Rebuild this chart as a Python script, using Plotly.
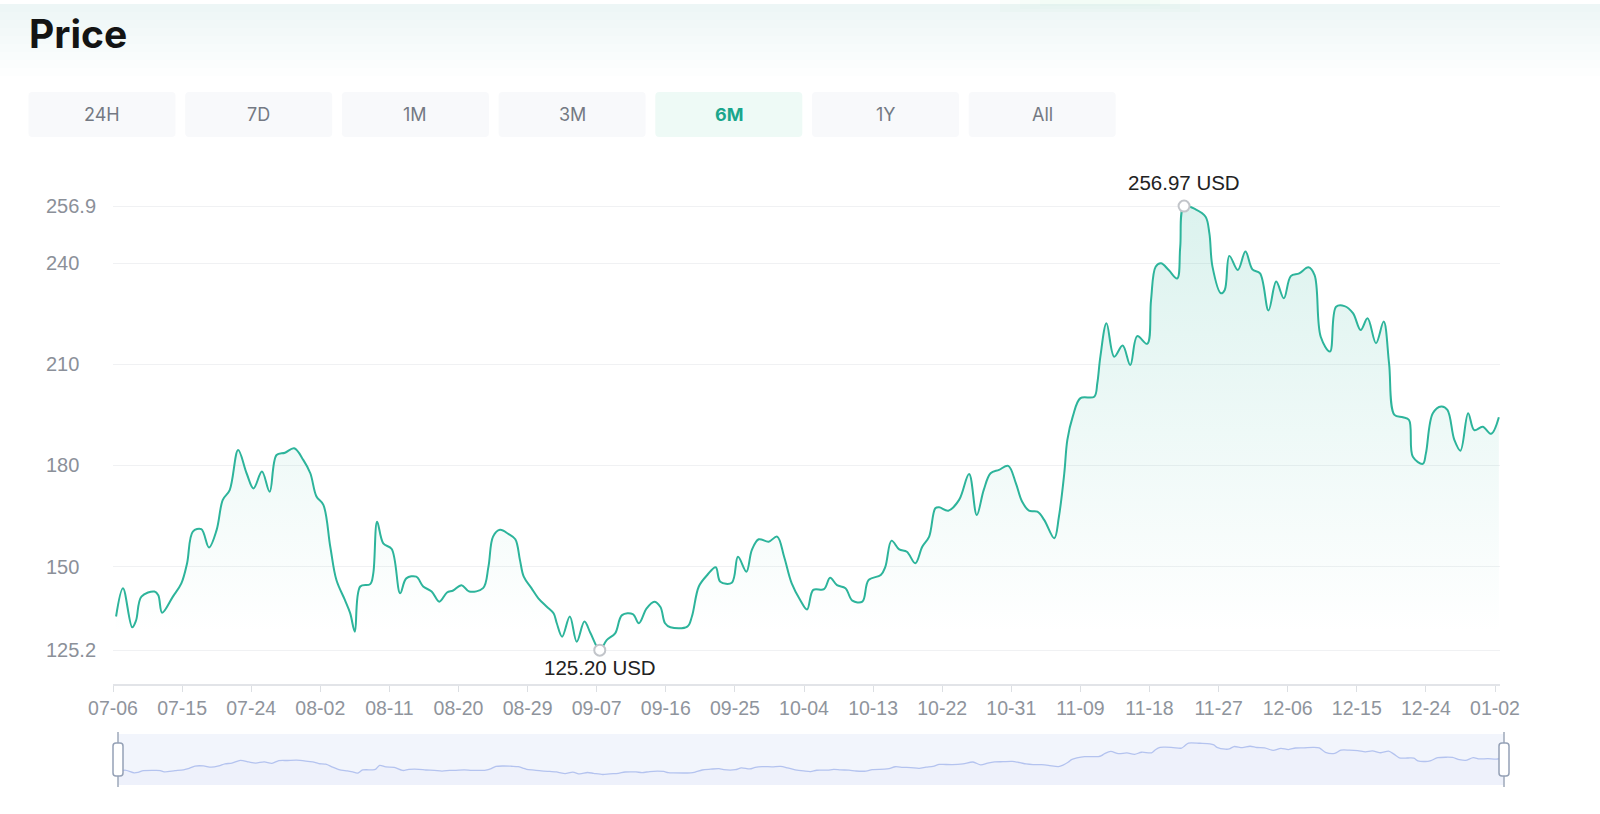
import plotly.graph_objects as go
import pandas as pd

W, H = 1600, 814

# ---------------- data ----------------
START = "2024-07-06"
day_offsets = [
    0.4, 1.3, 2.5, 3.0, 3.7, 5.4, 5.9, 6.4, 7.8, 8.9, 9.65, 10.4, 11.5, 12.5, 13.5,
    14.3, 15.2, 16.3, 17.4, 18.3, 19.4, 20.4, 21.3, 22.4, 23.6, 24.8, 25.7, 26.5,
    27.4, 28.3, 29.1, 30.2, 30.9, 31.5, 32.2, 33.5, 33.9, 34.4, 35.2, 36.3, 37.4,
    38.2, 39.5, 40.4, 41.5, 42.5, 43.5, 44.3, 45.4, 46.4, 48.2, 48.9, 49.5, 50.4,
    51.5, 52.4, 53.0, 53.5, 54.5, 55.4, 56.5, 57.4, 57.8, 58.5, 59.5, 60.4, 61.4,
    62.2, 63.4, 64.3, 65.4, 66.3, 67.7, 68.5, 69.5, 70.5, 71.3, 71.9, 72.6, 74.8,
    75.4, 76.3, 77.4, 78.5, 79.1, 80.6, 81.4, 82.5, 83.2, 84.1, 85.4, 86.5, 87.4,
    88.4, 89.5, 90.4, 91.2, 92.6, 93.4, 94.3, 95.4, 96.3, 97.6, 98.4, 100.0, 100.6,
    101.4, 102.4, 103.4, 104.5, 105.4, 106.3, 107.1, 107.6, 108.8, 110.2, 111.5,
    112.5, 113.4, 114.3, 115.4, 116.6, 117.6, 118.4, 119.3, 120.4, 121.3, 122.6,
    123.2, 123.9, 124.3, 125.0, 126.0, 127.8, 128.2, 128.6, 129.4, 130.4, 131.5,
    132.5, 133.4, 134.7, 135.2, 135.8, 136.5, 137.5, 138.6, 139.0, 139.5, 141.0,
    142.3, 142.8, 143.2, 144.3, 144.8, 145.4, 146.5, 147.5, 148.4, 149.4, 150.5,
    151.5, 152.5, 153.4, 154.5, 155.7, 156.5, 157.3, 158.5, 159.3, 160.4, 161.5,
    162.5, 163.4, 164.5, 165.5, 166.2, 166.9, 168.0, 168.8, 169.3, 170.6, 171.0,
    171.9, 173.0, 173.8, 174.7, 175.5, 176.5, 177.3, 178.4, 179.5, 180.5,
]
prices = [
    135.2, 143.6, 132.0, 134.0, 141.1, 142.6, 141.5, 136.3, 141.1, 145.0, 151.0, 160.4, 161.1, 155.7, 160.9,
    169.8, 172.7, 184.6, 177.7, 173.2, 178.2, 172.2, 183.1, 183.8, 185.1, 181.6, 177.7, 170.8,
    168.3, 155.9, 146.0, 140.1, 136.1, 130.7, 144.1, 144.8, 148.0, 163.3, 156.9, 155.2, 142.1,
    146.5, 147.0, 144.1, 142.6, 139.6, 142.3, 142.9, 144.5, 142.6, 143.6, 150.0, 158.9, 160.9,
    159.7, 158.1, 152.0, 147.0, 143.6, 140.6, 138.1, 136.1, 133.2, 129.2, 135.2, 127.7, 133.7,
    130.2, 125.20, 128.2, 130.2, 135.6, 135.9, 133.2, 137.6, 139.6, 138.0, 133.2, 132.0, 132.2,
    135.2, 144.1, 147.5, 149.8, 145.5, 145.2, 152.9, 148.5, 154.9, 158.1, 157.4, 158.9, 153.0,
    145.0, 140.1, 137.3, 143.1, 143.3, 146.7, 144.5, 143.6, 139.9, 139.6, 146.0, 147.5, 150.0,
    157.7, 155.1, 154.4, 151.0, 155.9, 158.9, 167.3, 167.6, 166.6, 169.8, 177.5,
    165.3, 172.7, 177.7, 178.7, 179.9, 174.7, 169.3, 166.6, 166.3, 163.8, 158.4,
    164.8, 177.7, 187.6, 194.5, 200.0, 200.4, 204.4, 212.3, 222.2, 212.3, 215.6,
    209.8, 218.4, 216.1, 229.1, 239.0, 240.0, 238.0, 235.5, 244.9, 256.97, 256.0,
    253.8, 248.9, 239.0, 231.1, 232.1, 242.2, 238.0, 243.5, 238.2, 237.0, 226.0,
    234.6, 229.6, 236.2, 237.0, 238.8, 236.5, 218.2, 213.8, 227.1, 227.3, 225.2,
    220.2, 223.7, 216.3, 222.7, 210.3, 195.0, 194.3, 193.5, 182.6, 180.5, 183.6,
    195.5, 197.5, 196.5, 187.6, 184.4, 195.5, 190.5, 191.5, 189.4, 194.3,
]
x_tick_labels = ["07-06", "07-15", "07-24", "08-02", "08-11", "08-20", "08-29",
                 "09-07", "09-16", "09-25", "10-04", "10-13", "10-22", "10-31",
                 "11-09", "11-18", "11-27", "12-06", "12-15", "12-24", "01-02"]
y_tick_values = [125.2, 150, 180, 210, 240, 256.9]
y_tick_labels = ["125.2", "150", "180", "210", "240", "256.9"]
range_buttons = ["24H", "7D", "1M", "3M", "6M", "1Y", "All"]
active_button = "6M"
unit = "USD"
title = "Price"

# ---------------- helpers ----------------
def fx(px):
    return px / W

def fy(py):
    return 1 - py / H

def rounded_rect(x0, y0, x1, y1, r):
    """Rounded rectangle path in paper coordinates, from pixel positions."""
    pts = [
        "M %f,%f" % (fx(x0 + r), fy(y0)),
        "L %f,%f" % (fx(x1 - r), fy(y0)),
        "Q %f,%f %f,%f" % (fx(x1), fy(y0), fx(x1), fy(y0 + r)),
        "L %f,%f" % (fx(x1), fy(y1 - r)),
        "Q %f,%f %f,%f" % (fx(x1), fy(y1), fx(x1 - r), fy(y1)),
        "L %f,%f" % (fx(x0 + r), fy(y1)),
        "Q %f,%f %f,%f" % (fx(x0), fy(y1), fx(x0), fy(y1 - r)),
        "L %f,%f" % (fx(x0), fy(y0 + r)),
        "Q %f,%f %f,%f" % (fx(x0), fy(y0), fx(x0 + r), fy(y0)),
        "Z",
    ]
    return " ".join(pts)

dates = pd.Timestamp(START) + pd.to_timedelta(day_offsets, unit="D")
tick_dates = pd.date_range(START, periods=len(x_tick_labels), freq="9D")
x_end = pd.Timestamp(START) + pd.Timedelta(days=180.65)

imax = max(range(len(prices)), key=lambda i: prices[i])
imin = min(range(len(prices)), key=lambda i: prices[i])

LINE = "#2db49b"
FONT = "Liberation Sans, Arial, sans-serif"

fig = go.Figure()

fig.add_trace(go.Scatter(
    x=dates, y=prices, mode="lines",
    line=dict(color=LINE, width=2, shape="spline", smoothing=1.0),
    fill="tozeroy",
    fillgradient=dict(type="vertical",
                      colorscale=[[0, "rgba(45,180,155,0)"], [1, "rgba(45,180,155,0.17)"]],
                      start=130, stop=257),
    hoverinfo="skip", showlegend=False,
))

fig.add_trace(go.Scatter(
    x=[dates[imax], dates[imin]], y=[prices[imax], prices[imin]], mode="markers",
    marker=dict(symbol="circle", size=11, color="white", line=dict(color="#c2c5ca", width=2)),
    cliponaxis=False, hoverinfo="skip", showlegend=False,
))

# mini overview (data zoom)
fig.add_trace(go.Scatter(
    x=dates, y=prices, mode="lines", xaxis="x2", yaxis="y2",
    line=dict(color="#b4c3ef", width=1.3, shape="spline", smoothing=0.8),
    fill="tozeroy", fillcolor="rgba(190,205,245,0.08)",
    hoverinfo="skip", showlegend=False,
))

annotations = []
shapes = []

# top soft shadow band (stacked translucent layers give a fade)
for bottom in (12, 20, 28, 36, 44, 52, 60, 68, 76):
    shapes.append(dict(type="rect", xref="paper", yref="paper", x0=0, x1=1,
                       y0=fy(bottom), y1=fy(4), fillcolor="#e2e5e9", opacity=0.055,
                       line=dict(width=0), layer="below"))
# faint green glow at the top edge
for k, (gx0, gx1, gb) in enumerate(((1000, 1200, 12), (1020, 1180, 9), (1040, 1160, 6))):
    shapes.append(dict(type="rect", xref="paper", yref="paper", x0=fx(gx0), x1=fx(gx1),
                       y0=fy(gb), y1=fy(0), fillcolor="#d2efdf", opacity=0.08,
                       line=dict(width=0), layer="below"))

# title
annotations.append(dict(text="<b>" + title + "</b>", x=fx(27), y=fy(34), xref="paper", yref="paper",
                        xanchor="left", yanchor="middle", showarrow=False,
                        font=dict(family="Inter, Liberation Sans, sans-serif", size=39, color="#141414")))

# range buttons
bx0, bpitch, bw, by0, by1 = 28.5, 156.7, 147, 92, 137
for i, name in enumerate(range_buttons):
    x0 = bx0 + i * bpitch
    active = name == active_button
    shapes.append(dict(type="path", xref="paper", yref="paper",
                       path=rounded_rect(x0, by0, x0 + bw, by1, 4),
                       fillcolor="#eefaf6" if active else "#f8f9fb",
                       line=dict(width=0), layer="below"))
    annotations.append(dict(text=("<b>%s</b>" % name) if active else name,
                            x=fx(x0 + bw / 2), y=fy((by0 + by1) / 2), xref="paper", yref="paper",
                            xanchor="center", yanchor="middle", showarrow=False,
                            font=dict(family="Inter, Noto Sans, sans-serif", size=18,
                                      color="#1aa68c" if active else "#747983")))

# y tick labels (left aligned)
for v, t in zip(y_tick_values, y_tick_labels):
    annotations.append(dict(text=t, x=fx(44), y=v, xref="paper", yref="y",
                            xanchor="left", yanchor="middle", showarrow=False,
                            font=dict(family=FONT, size=20, color="#8b9099")))

# extreme labels
annotations.append(dict(text="%.2f %s" % (prices[imax], unit), x=dates[imax], y=prices[imax],
                        xref="x", yref="y", yshift=24, showarrow=False,
                        font=dict(family=FONT, size=20.5, color="#222222")))
annotations.append(dict(text="%.2f %s" % (prices[imin], unit), x=dates[imin], y=prices[imin],
                        xref="x", yref="y", yshift=-17, showarrow=False,
                        font=dict(family=FONT, size=20.5, color="#222222")))

# slider background and handles (at the slider's two ends)
sl_x0, sl_x1, sl_top, sl_bot = 118, 1504, 734, 785
shapes.append(dict(type="rect", xref="paper", yref="paper", x0=fx(sl_x0), x1=fx(sl_x1),
                   y0=fy(sl_bot), y1=fy(sl_top), fillcolor="#f2f5fc",
                   line=dict(width=0), layer="below"))
for hx in (sl_x0, sl_x1):
    shapes.append(dict(type="line", xref="paper", yref="paper", x0=fx(hx), x1=fx(hx),
                       y0=fy(sl_bot + 2), y1=fy(sl_top - 2), line=dict(color="#9ea8ba", width=1.5)))
    shapes.append(dict(type="path", xref="paper", yref="paper",
                       path=rounded_rect(hx - 5, 743, hx + 5, 776, 3),
                       fillcolor="white", line=dict(color="#95a1b6", width=1.5)))

fig.update_layout(
    width=W, height=H, margin=dict(l=0, r=0, t=0, b=0, pad=0, autoexpand=False),
    paper_bgcolor="white", plot_bgcolor="white",
    xaxis=dict(domain=[fx(113), fx(1500)], type="date",
               range=[pd.Timestamp(START), x_end],
               tickvals=tick_dates, ticktext=x_tick_labels,
               ticks="outside", ticklen=6, tickwidth=1, tickcolor="#dcdfe3",
               showline=True, linecolor="#e2e4e8", linewidth=2,
               showgrid=False, zeroline=False, fixedrange=True, automargin=False,
               tickfont=dict(family=FONT, size=19.5, color="#8f949c")),
    yaxis=dict(domain=[fy(684), fy(180)], range=[115.16, 264.72],
               tickvals=y_tick_values, showticklabels=False,
               showgrid=True, gridcolor="#f0f1f3", gridwidth=1, automargin=False,
               zeroline=False, showline=False, ticks="", fixedrange=True),
    xaxis2=dict(domain=[fx(sl_x0), fx(sl_x1)], anchor="y2", type="date",
                range=[dates[0], dates[-1]], visible=False, fixedrange=True),
    yaxis2=dict(domain=[fy(sl_bot), fy(sl_top)], anchor="x2", range=[81.3, 294.7],
                visible=False, fixedrange=True),
    annotations=annotations, shapes=shapes,
)

fig.write_html("out.html")
